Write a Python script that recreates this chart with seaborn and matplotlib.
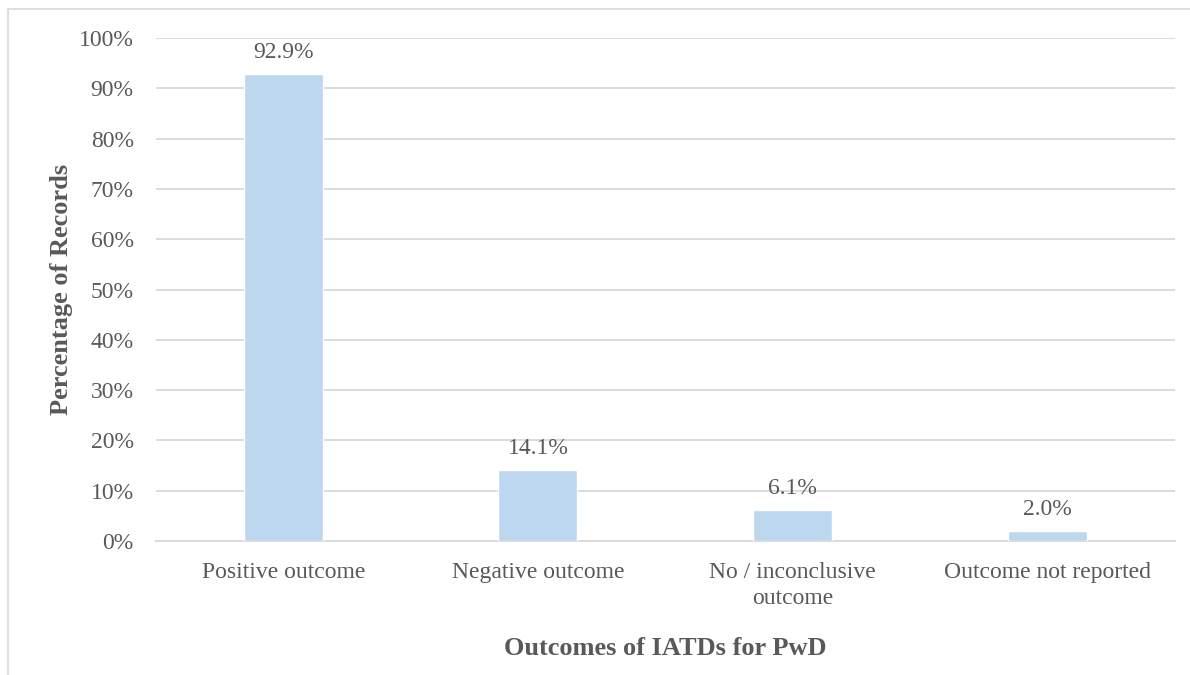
import pandas as pd
import matplotlib.pyplot as plt
import seaborn as sns
from matplotlib.patches import Rectangle
from matplotlib.ticker import PercentFormatter

# Data
categories = ['Positive outcome', 'Negative outcome', 'No / inconclusive\noutcome', 'Outcome not reported']
percentages = [92.9, 14.1, 6.1, 2.0]

df = pd.DataFrame({'Outcome': categories, 'Percentage': percentages})

sns.set_theme(style='white')
plt.rcParams['font.family'] = ['Liberation Serif', 'DejaVu Serif']

text_col = '#595959'
grid_col = '#D9D9D9'

fig = plt.figure(figsize=(11.9, 6.75), dpi=100)
ax = fig.add_axes([0.131, 0.1985, 0.856, 0.745])

sns.barplot(x='Outcome', y='Percentage', data=df, color='#BDD7EE', width=0.31,
            saturation=1, ax=ax, zorder=3)

ax.set_ylim(0, 100)
ax.set_yticks(range(0, 101, 10))
ax.yaxis.set_major_formatter(PercentFormatter(decimals=0))
ax.grid(axis='y', color=grid_col, linewidth=1.3, zorder=0)
ax.set_axisbelow(True)

for s in ['top', 'right', 'left']:
    ax.spines[s].set_visible(False)
ax.spines['bottom'].set_color(grid_col)
ax.spines['bottom'].set_linewidth(1.3)

ax.tick_params(axis='both', length=0, labelsize=17, colors=text_col)
ax.tick_params(axis='y', pad=16)
ax.tick_params(axis='x', pad=15)
for lbl in ax.get_xticklabels():
    lbl.set_linespacing(1.35)

for p, v in zip(ax.patches, percentages):
    ax.text(p.get_x() + p.get_width() / 2, v + 2.2, f'{v:.1f}%', ha='center', va='bottom',
            fontsize=17, color=text_col)

ax.set_xlabel('Outcomes of IATDs for PwD', fontsize=19, fontweight='bold', color=text_col, labelpad=20)
ax.set_ylabel('Percentage of Records', fontsize=19, fontweight='bold', color=text_col, labelpad=4)

# outer chart frame
fig.patches.append(Rectangle((8 / 1190, -0.05), 1.1, 1 - 9 / 675 + 0.05, transform=fig.transFigure,
                             fill=False, edgecolor=grid_col, linewidth=1.2))

fig.savefig('out.png', dpi=100)
